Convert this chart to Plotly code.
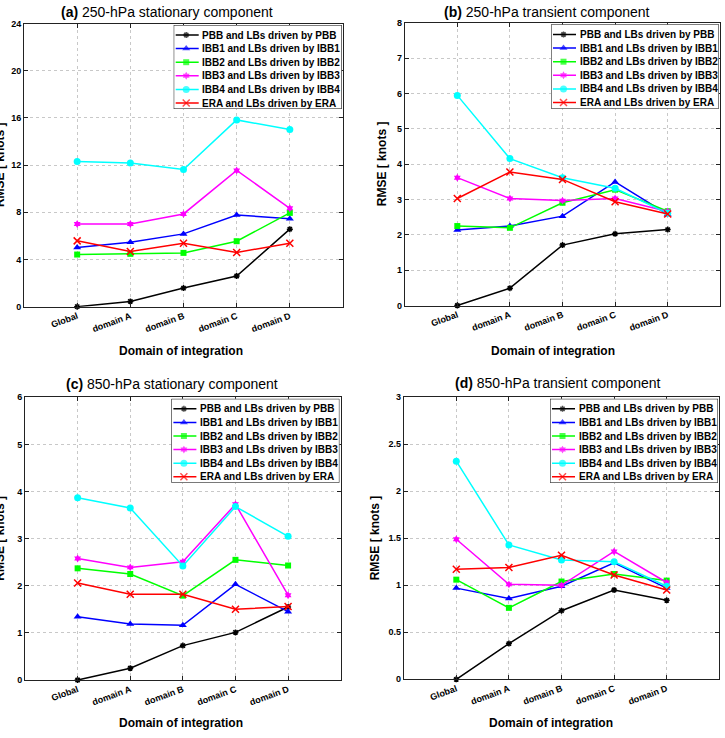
import plotly.graph_objects as go

# ---------------- data ----------------
categories = ["Global", "domain A", "domain B", "domain C", "domain D"]

series_names = [
    "PBB and LBs driven by PBB",
    "IBB1 and LBs driven by IBB1",
    "IBB2 and LBs driven by IBB2",
    "IBB3 and LBs driven by IBB3",
    "IBB4 and LBs driven by IBB4",
    "ERA and LBs driven by ERA",
]

# (a) 250-hPa stationary component
a_pbb = [0.0, 0.45, 1.58, 2.60, 6.57]
a_ibb1 = [5.02, 5.47, 6.17, 7.77, 7.46]
a_ibb2 = [4.42, 4.48, 4.56, 5.55, 7.95]
a_ibb3 = [7.01, 7.01, 7.86, 11.55, 8.34]
a_ibb4 = [12.31, 12.17, 11.63, 15.83, 15.01]
a_era = [5.58, 4.68, 5.38, 4.60, 5.38]

# (b) 250-hPa transient component
b_pbb = [0.0, 0.49, 1.71, 2.03, 2.15]
b_ibb1 = [2.14, 2.25, 2.53, 3.50, 2.58]
b_ibb2 = [2.25, 2.20, 2.91, 3.28, 2.67]
b_ibb3 = [3.62, 3.03, 2.97, 3.03, 2.66]
b_ibb4 = [5.95, 4.16, 3.62, 3.32, 2.61]
b_era = [3.03, 3.78, 3.57, 2.94, 2.59]

# (c) 850-hPa stationary component
c_pbb = [0.0, 0.25, 0.73, 1.01, 1.55]
c_ibb1 = [1.34, 1.19, 1.16, 2.03, 1.45]
c_ibb2 = [2.37, 2.25, 1.79, 2.55, 2.43]
c_ibb3 = [2.58, 2.39, 2.51, 3.73, 1.80]
c_ibb4 = [3.87, 3.65, 2.42, 3.68, 3.05]
c_era = [2.06, 1.82, 1.82, 1.50, 1.56]

# (d) 850-hPa transient component
d_pbb = [0.0, 0.38, 0.73, 0.95, 0.84]
d_ibb1 = [0.97, 0.86, 0.99, 1.24, 0.97]
d_ibb2 = [1.06, 0.76, 1.04, 1.12, 1.05]
d_ibb3 = [1.49, 1.01, 1.00, 1.36, 1.03]
d_ibb4 = [2.32, 1.43, 1.27, 1.25, 0.99]
d_era = [1.17, 1.19, 1.32, 1.11, 0.95]

panel_labels = ["(a)", "(b)", "(c)", "(d)"]
panel_titles = [
    "250-hPa stationary component",
    "250-hPa transient component",
    "850-hPa stationary component",
    "850-hPa transient component",
]
y_maxes = [24, 8, 6, 3]
y_dticks = [4, 1, 1, 0.5]
x_label = "Domain of integration"
y_label = "RMSE [ knots ]"

# ---------------- styles ----------------
W, H = 725, 738
FONT = "Liberation Sans, Arial, Helvetica, sans-serif"
colors = ["#000000", "#0000ff", "#00ff00", "#ff00ff", "#00ffff", "#ff0000"]
symbols = ["asterisk-open", "triangle-up", "square", "hexagram", "circle", "x-thin-open"]
msizes = [5, 7, 6, 6, 7, 7]

panels_data = [
    [a_pbb, a_ibb1, a_ibb2, a_ibb3, a_ibb4, a_era],
    [b_pbb, b_ibb1, b_ibb2, b_ibb3, b_ibb4, b_era],
    [c_pbb, c_ibb1, c_ibb2, c_ibb3, c_ibb4, c_era],
    [d_pbb, d_ibb1, d_ibb2, d_ibb3, d_ibb4, d_era],
]

# plot-area pixel boxes (left, right, top, bottom)
boxes = [
    (24, 343, 23.5, 306.7),
    (404.7, 720.3, 23.0, 305.5),
    (25, 340.7, 397.3, 680.0),
    (403.7, 719.3, 397.3, 679.3),
]
title_pos = [(167, 11.5), (547, 11.5), (172, 384), (558, 383)]
xlabel_pos = [(181, 351), (553, 351), (181, 723), (551, 723)]
ylabel_x = [0, 382, 0, 375]

LEG_W, LEG_H = 168, 84


def px(x):
    return x / W


def py(y):
    return 1 - y / H


fig = go.Figure()
layout = dict(
    width=W,
    height=H,
    margin=dict(l=0, r=0, t=0, b=0, autoexpand=False),
    paper_bgcolor="white",
    plot_bgcolor="white",
    showlegend=False,
    font=dict(family=FONT, color="black"),
)
annotations = []
shapes = []

for p in range(4):
    k = p + 1
    sfx = "" if k == 1 else str(k)
    L, R, T, B = boxes[p]
    common = dict(
        showgrid=True,
        gridcolor="#c8c8c8",
        griddash="dot",
        gridwidth=1,
        showline=True,
        linecolor="#222222",
        linewidth=1,
        mirror="ticks",
        ticks="inside",
        ticklen=4,
        tickcolor="#222222",
        tickfont=dict(family=FONT, size=9, weight="bold", color="black"),
        zeroline=False,
        fixedrange=True,
        automargin=False,
    )
    xa = dict(
        type="category",
        range=[-1, 5],
        domain=[px(L), px(R)],
        anchor="y" + sfx,
        tickangle=-20,
        **common,
    )
    ya = dict(
        range=[0, y_maxes[p]],
        dtick=y_dticks[p],
        tick0=0,
        domain=[py(B), py(T)],
        anchor="x" + sfx,
        **common,
    )
    layout["xaxis" + sfx] = xa
    layout["yaxis" + sfx] = ya

    for s in range(6):
        fig.add_trace(
            go.Scatter(
                x=categories,
                y=panels_data[p][s],
                mode="lines+markers",
                name=series_names[s],
                line=dict(color=colors[s], width=1.5),
                marker=dict(
                    symbol=symbols[s],
                    size=msizes[s],
                    color=colors[s],
                    line=dict(color=colors[s], width=1.5 if "open" in symbols[s] else 0),
                ),
                cliponaxis=False,
                xaxis="x" + sfx,
                yaxis="y" + sfx,
            )
        )

    # titles and axis labels
    tx, ty = title_pos[p]
    annotations.append(
        dict(
            text="<b>" + panel_labels[p] + "</b> " + panel_titles[p],
            x=px(tx), y=py(ty), xref="paper", yref="paper",
            xanchor="center", yanchor="middle", showarrow=False,
            font=dict(family=FONT, size=14, color="black"),
        )
    )
    lx, ly = xlabel_pos[p]
    annotations.append(
        dict(
            text="<b>" + x_label + "</b>",
            x=px(lx), y=py(ly), xref="paper", yref="paper",
            xanchor="center", yanchor="middle", showarrow=False,
            font=dict(family=FONT, size=12, color="black"),
        )
    )
    annotations.append(
        dict(
            text="<b>" + y_label + "</b>",
            x=px(ylabel_x[p]), y=py((T + B) / 2), xref="paper", yref="paper",
            xanchor="center", yanchor="middle", showarrow=False, textangle=-90,
            font=dict(family=FONT, size=12, color="black"),
        )
    )

    # legend box (own overlay subplot, drawn above the panel)
    lk = str(k + 4)
    lr = R - 1.3
    lt = T + 1.5
    layout["xaxis" + lk] = dict(
        domain=[px(lr - LEG_W), px(lr)], range=[0, LEG_W], visible=False,
        anchor="y" + lk, fixedrange=True, automargin=False,
    )
    layout["yaxis" + lk] = dict(
        domain=[py(lt + LEG_H), py(lt)], range=[LEG_H, 0], visible=False,
        anchor="x" + lk, fixedrange=True, automargin=False,
    )
    shapes.append(
        dict(
            type="rect", xref="x" + lk, yref="y" + lk,
            x0=0, x1=LEG_W, y0=0, y1=LEG_H,
            fillcolor="white", line=dict(color="black", width=1), layer="below",
        )
    )
    for s in range(6):
        row_y = 10 + 13.6 * s
        fig.add_trace(
            go.Scatter(
                x=[2, 12.5, 25],
                y=[row_y, row_y, row_y],
                mode="lines+markers",
                line=dict(color=colors[s], width=1.5),
                marker=dict(
                    symbol=symbols[s],
                    size=[0, msizes[s], 0],
                    color=colors[s],
                    line=dict(color=colors[s], width=1.5 if "open" in symbols[s] else 0),
                ),
                hoverinfo="skip",
                showlegend=False,
                cliponaxis=False,
                xaxis="x" + lk,
                yaxis="y" + lk,
            )
        )
        annotations.append(
            dict(
                text="<b>" + series_names[s] + "</b>",
                x=26.5, y=row_y, xref="x" + lk, yref="y" + lk,
                xanchor="left", yanchor="middle", showarrow=False,
                font=dict(family=FONT, size=10, color="black"),
            )
        )

layout["annotations"] = annotations
layout["shapes"] = shapes
fig.update_layout(**layout)
fig.write_html(
    "out.html",
    config={"displayModeBar": False},
    post_script="document.body.style.margin='0';document.body.style.overflow='hidden';",
)
